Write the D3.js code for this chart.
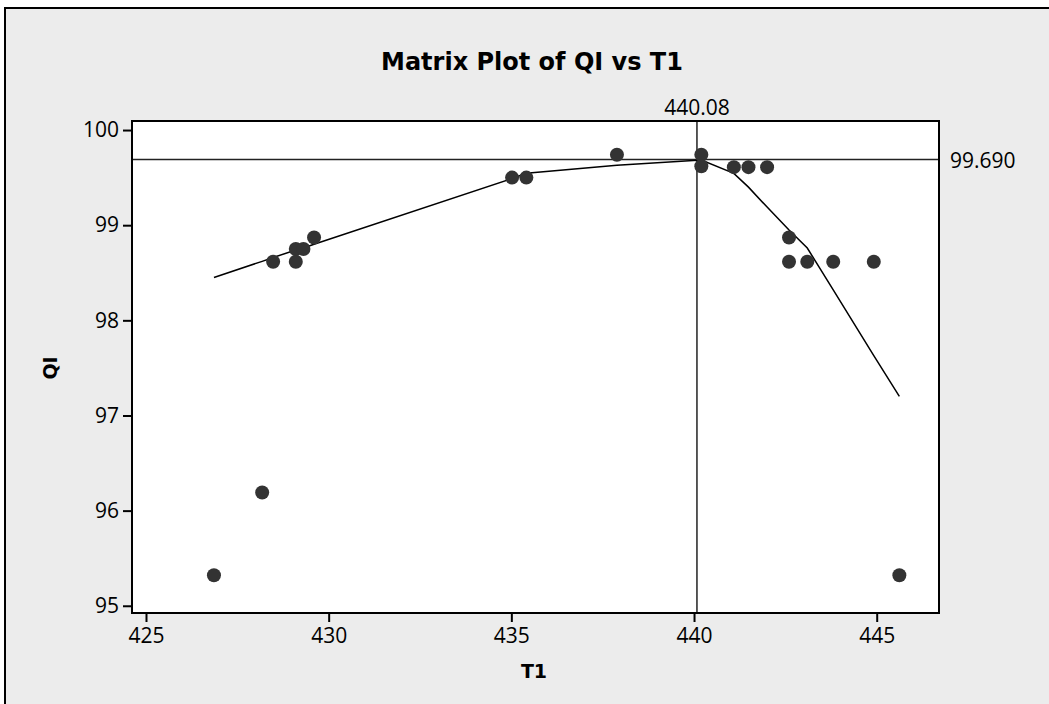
<!DOCTYPE html>
<html lang="en">
<head>
  <meta charset="UTF-8">
  <script src="https://d3js.org/d3.v7.min.js"></script>
  <title>Matrix Plot of QI vs T1</title>
  <style>
    body { margin: 0; background: #fff; }
  </style>
</head>
<body>
  <svg id="chart" width="1049" height="704"></svg>

  <script>
    // observed points (T1, QI)
    var t1 = [426.86, 428.18, 428.48, 429.10, 429.10, 429.31, 429.60, 435.02, 435.41, 437.89,
              440.20, 440.20, 441.09, 441.49, 442.00, 442.60, 442.60, 443.10, 443.81, 444.92, 445.62];
    var qi = [95.32, 96.19, 98.615, 98.615, 98.75, 98.75, 98.87, 99.50, 99.50, 99.74,
              99.74, 99.62, 99.61, 99.61, 99.61, 98.87, 98.615, 98.615, 98.615, 98.615, 95.32];

    // smoother through the points
    var fitX = [426.86, 428.18, 428.48, 429.10, 429.31, 429.60, 435.02, 435.41, 437.89, 440.20,
                441.09, 441.49, 442.00, 442.60, 443.10, 443.81, 444.92, 445.62];
    var fitY = [98.45, 98.62, 98.66, 98.74, 98.76, 98.80, 99.49, 99.545, 99.63, 99.685,
                99.545, 99.40, 99.19, 98.95, 98.76, 98.32, 97.63, 97.20];

    var xTicks = [425, 430, 435, 440, 445];
    var yTicks = [95, 96, 97, 98, 99, 100];
    var refX = 440.08, refY = 99.690;

    var svg = d3.select("#chart");
    var numFont = "'Open Sans', sans-serif";
    var boldFont = "'DejaVu Sans', sans-serif";

    // background panel with left/top frame
    svg.append("rect").attr("x", 5).attr("y", 8).attr("width", 1044).attr("height", 696).attr("fill", "#ececec");
    svg.append("line").attr("x1", 5).attr("x2", 5).attr("y1", 7).attr("y2", 704).attr("stroke", "#000").attr("stroke-width", 2);
    svg.append("line").attr("x1", 4).attr("x2", 1049).attr("y1", 8).attr("y2", 8).attr("stroke", "#000").attr("stroke-width", 2);

    var pLeft = 132, pRight = 939, pTop = 121, pBottom = 613;

    var x = d3.scaleLinear().domain([424.617, 446.705]).range([pLeft, pRight]);
    var y = d3.scaleLinear().domain([94.924, 100.095]).range([pBottom, pTop]);

    svg.append("rect")
      .attr("x", pLeft).attr("y", pTop)
      .attr("width", pRight - pLeft).attr("height", pBottom - pTop)
      .attr("fill", "#fff");

    // reference lines
    svg.append("line")
      .attr("x1", pLeft).attr("x2", pRight)
      .attr("y1", y(refY)).attr("y2", y(refY))
      .attr("stroke", "#222").attr("stroke-width", 1.5);
    svg.append("line")
      .attr("x1", x(refX)).attr("x2", x(refX))
      .attr("y1", pTop).attr("y2", pBottom)
      .attr("stroke", "#222").attr("stroke-width", 1.5);

    // smoother
    var line = d3.line().x(function(d) { return x(d[0]); }).y(function(d) { return y(d[1]); });
    svg.append("path")
      .datum(d3.zip(fitX, fitY))
      .attr("d", line)
      .attr("fill", "none")
      .attr("stroke", "#000")
      .attr("stroke-width", 1.5);

    // points
    svg.append("g")
      .selectAll("circle")
      .data(d3.zip(t1, qi))
      .enter()
      .append("circle")
        .attr("cx", function(d) { return x(d[0]); })
        .attr("cy", function(d) { return y(d[1]); })
        .attr("r", 7)
        .attr("fill", "#333");

    // axes
    var gx = svg.append("g")
      .attr("transform", "translate(0," + pBottom + ")")
      .call(d3.axisBottom(x).tickValues(xTicks).tickSize(9).tickPadding(6).tickFormat(d3.format("d")));
    var gy = svg.append("g")
      .attr("transform", "translate(" + pLeft + ",0)")
      .call(d3.axisLeft(y).tickValues(yTicks).tickSize(9).tickPadding(4).tickFormat(d3.format("d")));
    [gx, gy].forEach(function(g) {
      g.select(".domain").remove();
      g.selectAll(".tick line").attr("stroke", "#000").attr("stroke-width", 2);
      g.selectAll(".tick text").attr("font-family", numFont).attr("font-size", 21).attr("fill", "#000");
    });

    // plot border
    svg.append("rect")
      .attr("x", pLeft).attr("y", pTop)
      .attr("width", pRight - pLeft).attr("height", pBottom - pTop)
      .attr("fill", "none").attr("stroke", "#000").attr("stroke-width", 2);

    // reference labels
    svg.append("text")
      .attr("x", x(refX)).attr("y", pTop - 6)
      .attr("text-anchor", "middle")
      .attr("font-family", numFont).attr("font-size", 21).attr("fill", "#000")
      .text("440.08");
    svg.append("text")
      .attr("x", pRight + 11).attr("y", y(refY) + 8)
      .attr("font-family", numFont).attr("font-size", 21).attr("fill", "#000")
      .text("99.690");

    // titles
    svg.append("text")
      .attr("x", 532).attr("y", 70)
      .attr("text-anchor", "middle")
      .attr("font-family", boldFont).attr("font-weight", "bold").attr("font-size", 24)
      .text("Matrix Plot of QI vs T1");
    svg.append("text")
      .attr("x", 534).attr("y", 678)
      .attr("text-anchor", "middle")
      .attr("font-family", boldFont).attr("font-weight", "bold").attr("font-size", 19)
      .text("T1");
    svg.append("text")
      .attr("transform", "translate(57,368) rotate(-90)")
      .attr("text-anchor", "middle")
      .attr("font-family", boldFont).attr("font-weight", "bold").attr("font-size", 19)
      .text("QI");
  </script>
</body>
</html>
